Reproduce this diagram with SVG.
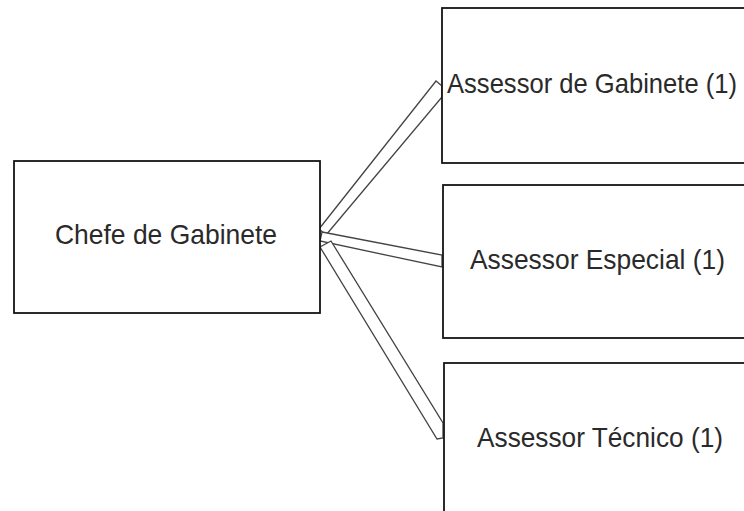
<svg xmlns="http://www.w3.org/2000/svg" width="744" height="511" viewBox="0 0 744 511">
<style>
.box{fill:#fff;stroke:#151515;stroke-width:1.8}
.lbl{font-family:"Liberation Sans",Arial,sans-serif;font-size:27.5px;fill:#2a2a2a}
.con{fill:#fff;stroke:#444;stroke-width:1.3;stroke-linejoin:miter}
</style>
<rect width="744" height="511" fill="#fff"/>
<g id="connectors">
<polygon class="con" points="319,229 436,81 442,86 442,97 326,235"/>
<polygon class="con" points="322,232 442,255 442,267 320,241"/>
<polygon class="con" points="331,241 443,423 443,438 437,439 320,247"/>
</g>
<g id="chefe">
<rect class="box" x="14" y="161" width="306" height="152"/>
<text class="lbl" x="55" y="244" textLength="222" lengthAdjust="spacingAndGlyphs">Chefe de Gabinete</text>
</g>
<g id="assessor-gabinete">
<rect class="box" x="442" y="8" width="320" height="155"/>
<text class="lbl" x="447" y="93" textLength="290" lengthAdjust="spacingAndGlyphs">Assessor de Gabinete (1)</text>
</g>
<g id="assessor-especial">
<rect class="box" x="443" y="185" width="320" height="153"/>
<text class="lbl" x="470" y="269" textLength="255" lengthAdjust="spacingAndGlyphs">Assessor Especial (1)</text>
</g>
<g id="assessor-tecnico">
<rect class="box" x="444" y="363" width="320" height="170"/>
<text class="lbl" x="477" y="447" textLength="246" lengthAdjust="spacingAndGlyphs">Assessor Técnico (1)</text>
</g>
</svg>
